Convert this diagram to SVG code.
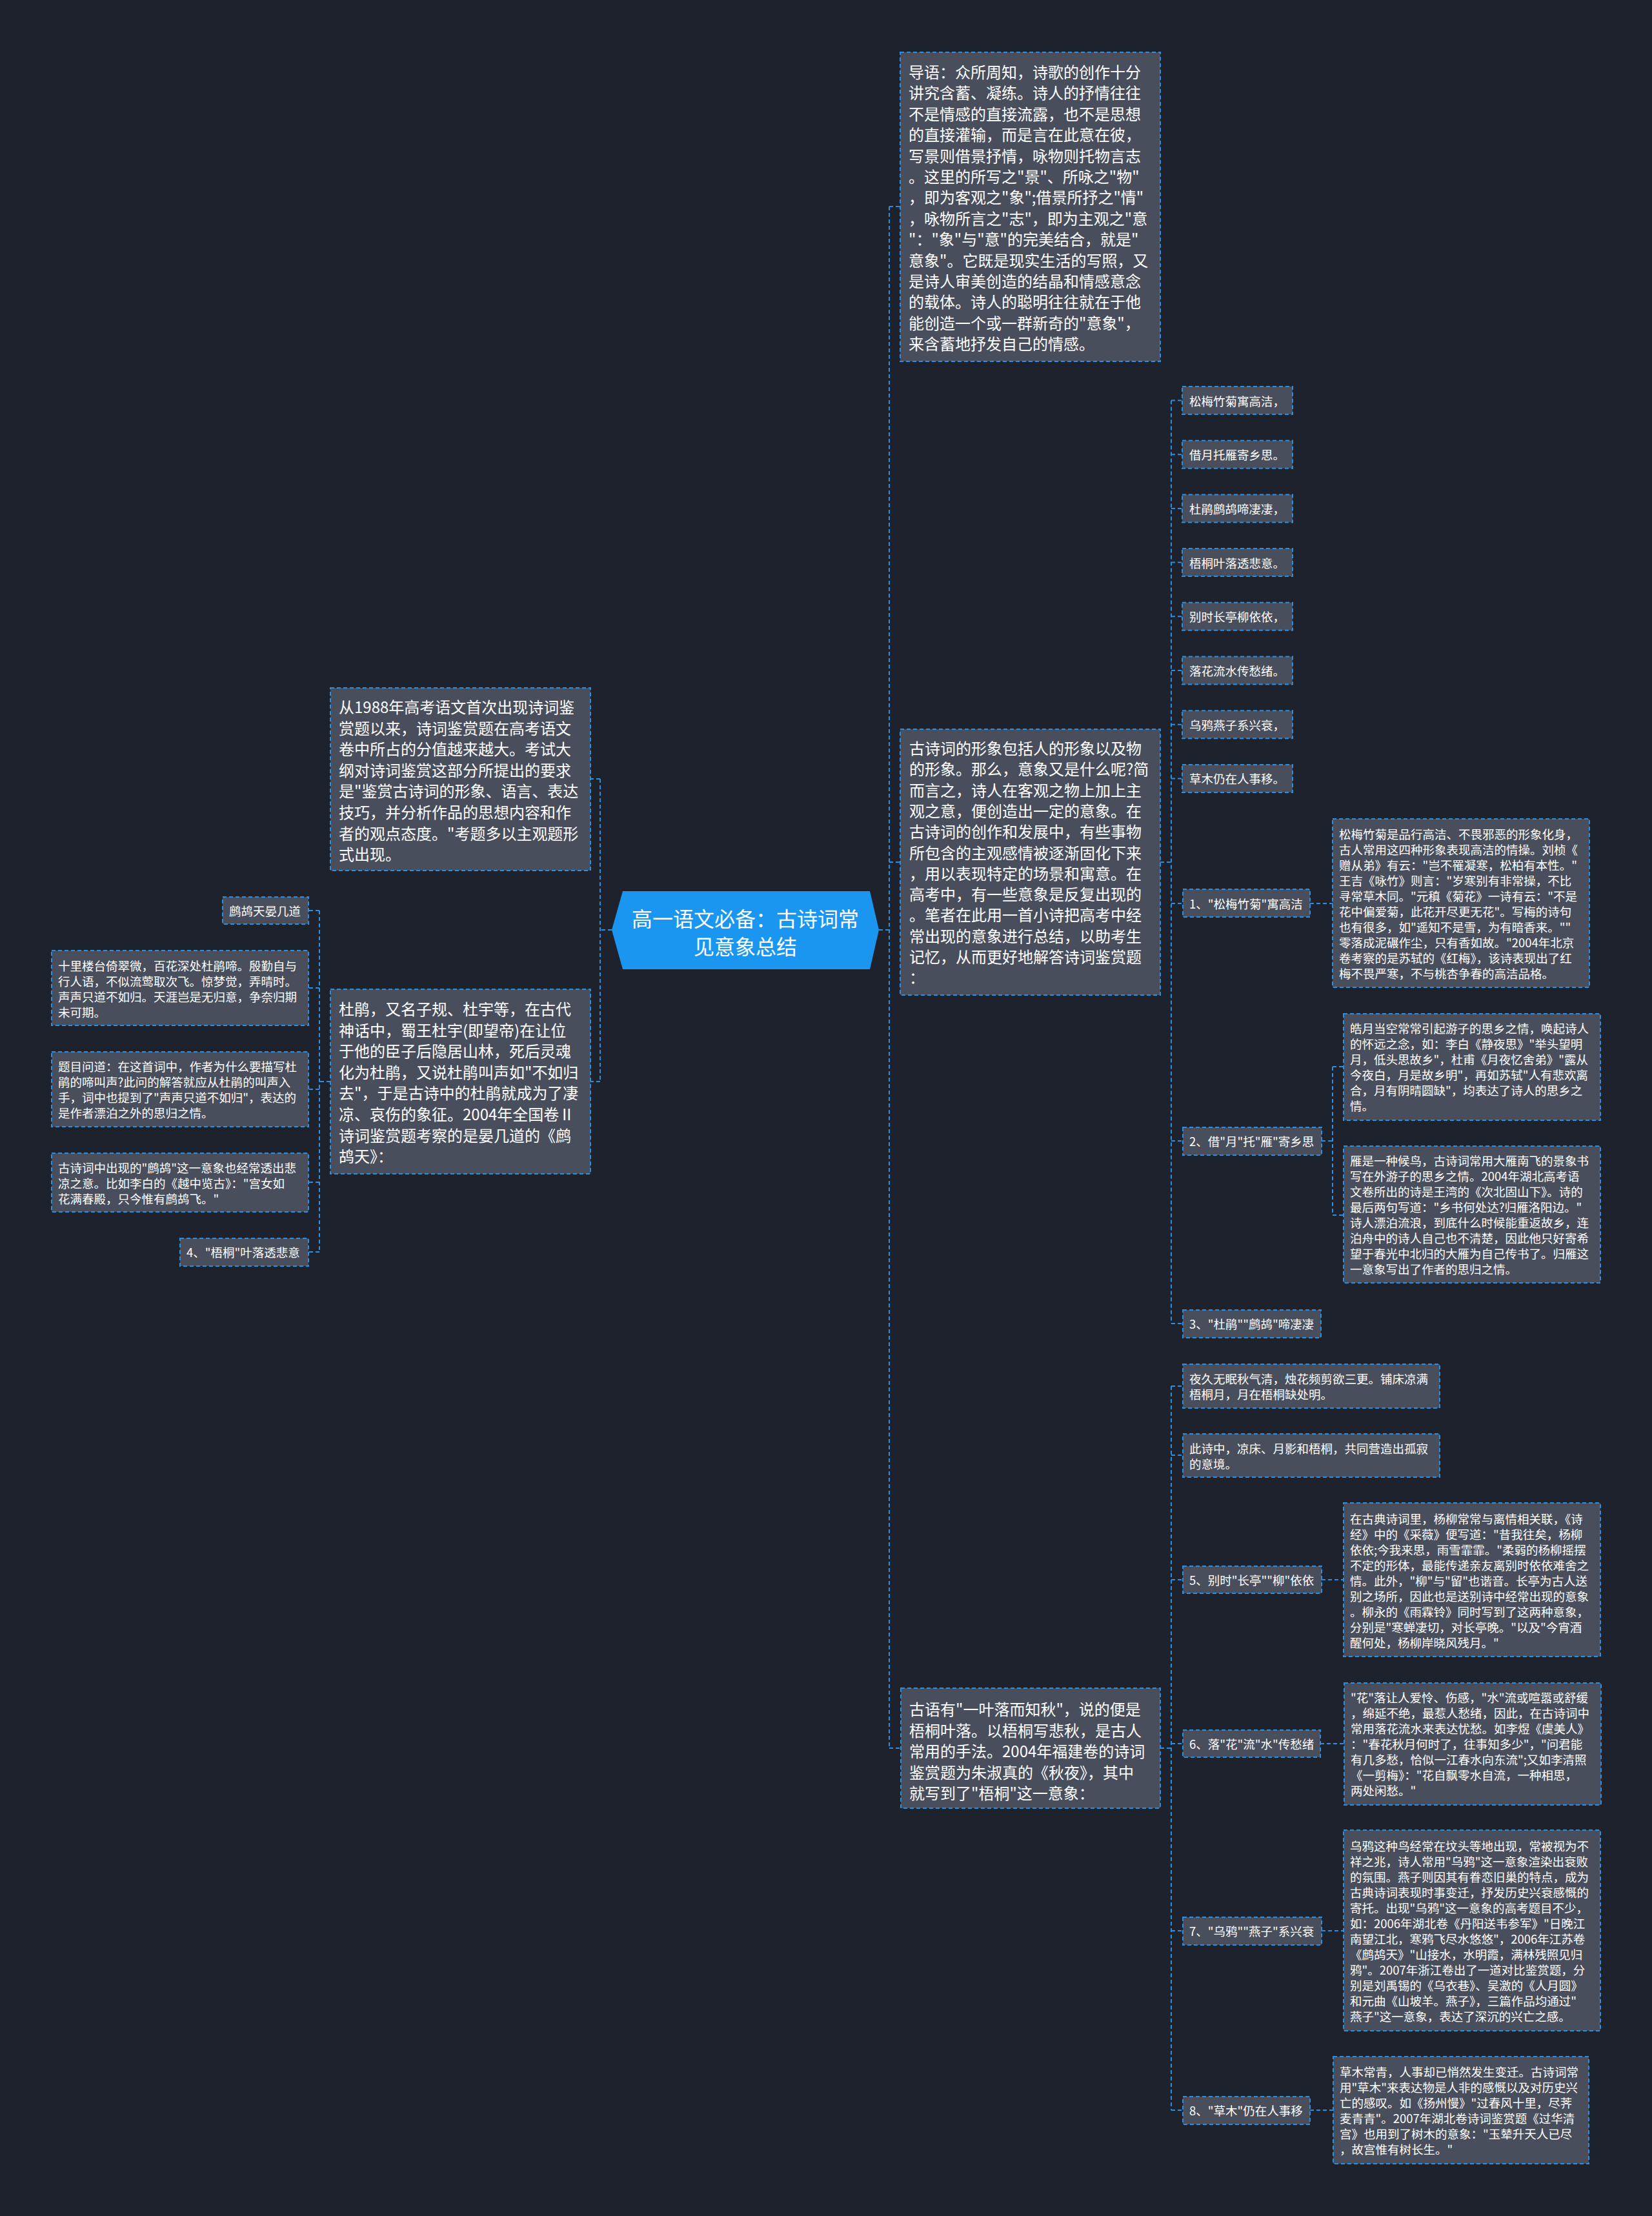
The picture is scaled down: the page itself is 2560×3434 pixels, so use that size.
<svg xmlns="http://www.w3.org/2000/svg" width="2560" height="3434" viewBox="0 0 2560 3434">
<style>
.n{fill:#484e5c;stroke:#2b8fe0;stroke-width:2;stroke-dasharray:6 4}
.c{fill:none;stroke:#2b8fe0;stroke-width:2;stroke-dasharray:6 4}
text{font-family:"Noto Sans CJK SC","Noto Sans",sans-serif;fill:#ffffff;dominant-baseline:central}
.t24{font-size:24px}
.t18{font-size:18.5px}
.tc{font-size:32px;text-anchor:middle}
</style>
<rect x="0" y="0" width="2560" height="3434" fill="#1e222d"/>
<g id="connectors">
<path class="c" d="M1362 1441H1378M1378 320V2709M1378 320H1395M1378 1336H1395M1378 2709H1396"/>
<path class="c" d="M1798 1336H1815M1815 620.5V2051M1815 620.5H1832M1815 704.2H1832M1815 787.9H1832M1815 871.6H1832M1815 955.3H1832M1815 1039H1832M1815 1122.7H1832M1815 1206.4H1832M1815 1400H1832M1815 1768H1832M1815 2051H1832"/>
<path class="c" d="M1798 2709H1815M1815 2148V3270M1815 2148H1832M1815 2255H1832M1815 2448H1832M1815 2702H1832M1815 2992H1832M1815 3270H1832"/>
<path class="c" d="M2030 1400H2065M2048 1768H2065M2065 1653V1883M2065 1653H2082M2065 1883H2082M2048 2448H2082M2046 2702H2083M2048 2992H2082M2030 3270H2066"/>
<path class="c" d="M948 1441H930M930 1207V1676M930 1207H915M930 1676H915M512 1676H495M495 1411V1940M495 1411H478M495 1531H478M495 1688H478M495 1832H478M495 1940H478"/>
</g>
<g id="center">
<polygon points="965,1381 1348,1381 1362,1441 1348,1502 965,1502 948,1441" fill="#1a96f0"/>
<text class="tc"><tspan x="1155" y="1422">高一语文必备：古诗词常</tspan><tspan x="1155" y="1465">见意象总结</tspan></text>
</g>
<g id="intro">
<rect class="n" x="1395" y="81" width="403" height="479"/>
<text class="t24"><tspan x="1408" y="110">导语：众所周知，诗歌的创作十分</tspan><tspan x="1408" y="142.4">讲究含蓄、凝练。诗人的抒情往往</tspan><tspan x="1408" y="174.8">不是情感的直接流露，也不是思想</tspan><tspan x="1408" y="207.2">的直接灌输，而是言在此意在彼，</tspan><tspan x="1408" y="239.6">写景则借景抒情，咏物则托物言志</tspan><tspan x="1408" y="272">。这里的所写之"景"、所咏之"物"</tspan><tspan x="1408" y="304.4">，即为客观之"象";借景所抒之"情"</tspan><tspan x="1408" y="336.8">，咏物所言之"志"，即为主观之"意</tspan><tspan x="1408" y="369.2">"："象"与"意"的完美结合，就是"</tspan><tspan x="1408" y="401.6">意象"。它既是现实生活的写照，又</tspan><tspan x="1408" y="434">是诗人审美创造的结晶和情感意念</tspan><tspan x="1408" y="466.4">的载体。诗人的聪明往往就在于他</tspan><tspan x="1408" y="498.8">能创造一个或一群新奇的"意象"，</tspan><tspan x="1408" y="531.2">来含蓄地抒发自己的情感。</tspan></text>
</g>
<g id="image-def">
<rect class="n" x="1395" y="1130" width="403" height="412"/>
<text class="t24"><tspan x="1409" y="1158">古诗词的形象包括人的形象以及物</tspan><tspan x="1409" y="1190.3">的形象。那么，意象又是什么呢?简</tspan><tspan x="1409" y="1222.6">而言之，诗人在客观之物上加上主</tspan><tspan x="1409" y="1254.9">观之意，便创造出一定的意象。在</tspan><tspan x="1409" y="1287.2">古诗词的创作和发展中，有些事物</tspan><tspan x="1409" y="1319.5">所包含的主观感情被逐渐固化下来</tspan><tspan x="1409" y="1351.8">，用以表现特定的场景和寓意。在</tspan><tspan x="1409" y="1384.1">高考中，有一些意象是反复出现的</tspan><tspan x="1409" y="1416.4">。笔者在此用一首小诗把高考中经</tspan><tspan x="1409" y="1448.7">常出现的意象进行总结，以助考生</tspan><tspan x="1409" y="1481">记忆，从而更好地解答诗词鉴赏题</tspan><tspan x="1409" y="1513.3">：</tspan></text>
</g>
<g id="wutong-block">
<rect class="n" x="1396" y="2616" width="402" height="186"/>
<text class="t24"><tspan x="1409" y="2647">古语有"一叶落而知秋"，说的便是</tspan><tspan x="1409" y="2679.5">梧桐叶落。以梧桐写悲秋，是古人</tspan><tspan x="1409" y="2712">常用的手法。2004年福建卷的诗词</tspan><tspan x="1409" y="2744.5">鉴赏题为朱淑真的《秋夜》，其中</tspan><tspan x="1409" y="2777">就写到了"梧桐"这一意象：</tspan></text>
</g>
<g id="poem1"><rect class="n" x="1832" y="599" width="171" height="43"/><text class="t18" x="1843" y="620.5">松梅竹菊寓高洁，</text></g>
<g id="poem2"><rect class="n" x="1832" y="682.7" width="171" height="43"/><text class="t18" x="1843" y="704.2">借月托雁寄乡思。</text></g>
<g id="poem3"><rect class="n" x="1832" y="766.4" width="171" height="43"/><text class="t18" x="1843" y="787.9">杜鹃鹧鸪啼凄凄，</text></g>
<g id="poem4"><rect class="n" x="1832" y="850.1" width="171" height="43"/><text class="t18" x="1843" y="871.6">梧桐叶落透悲意。</text></g>
<g id="poem5"><rect class="n" x="1832" y="933.8" width="171" height="43"/><text class="t18" x="1843" y="955.3">别时长亭柳依依，</text></g>
<g id="poem6"><rect class="n" x="1832" y="1017.5" width="171" height="43"/><text class="t18" x="1843" y="1039">落花流水传愁绪。</text></g>
<g id="poem7"><rect class="n" x="1832" y="1101.2" width="171" height="43"/><text class="t18" x="1843" y="1122.7">乌鸦燕子系兴衰，</text></g>
<g id="poem8"><rect class="n" x="1832" y="1184.9" width="171" height="43"/><text class="t18" x="1843" y="1206.4">草木仍在人事移。</text></g>
<g id="item1"><rect class="n" x="1833" y="1378" width="197" height="43"/><text class="t18" x="1843" y="1400">1、"松梅竹菊"寓高洁</text></g>
<g id="item1-detail">
<rect class="n" x="2065" y="1269" width="398" height="261"/>
<text class="t18"><tspan x="2075" y="1292">松梅竹菊是品行高洁、不畏邪恶的形象化身，</tspan><tspan x="2075" y="1316">古人常用这四种形象表现高洁的情操。刘桢《</tspan><tspan x="2075" y="1340">赠从弟》有云："岂不罹凝寒，松柏有本性。"</tspan><tspan x="2075" y="1364">王吉《咏竹》则言："岁寒别有非常操，不比</tspan><tspan x="2075" y="1388">寻常草木同。"元稹《菊花》一诗有云："不是</tspan><tspan x="2075" y="1412">花中偏爱菊，此花开尽更无花"。写梅的诗句</tspan><tspan x="2075" y="1436">也有很多，如"遥知不是雪，为有暗香来。""</tspan><tspan x="2075" y="1460">零落成泥碾作尘，只有香如故。"2004年北京</tspan><tspan x="2075" y="1484">卷考察的是苏轼的《红梅》，该诗表现出了红</tspan><tspan x="2075" y="1508">梅不畏严寒，不与桃杏争春的高洁品格。</tspan></text>
</g>
<g id="item2"><rect class="n" x="1833" y="1747" width="215" height="43"/><text class="t18" x="1843" y="1768">2、借"月"托"雁"寄乡思</text></g>
<g id="item2-moon">
<rect class="n" x="2082" y="1571" width="398" height="165"/>
<text class="t18"><tspan x="2092" y="1593">皓月当空常常引起游子的思乡之情，唤起诗人</tspan><tspan x="2092" y="1617">的怀远之念，如：李白《静夜思》"举头望明</tspan><tspan x="2092" y="1641">月，低头思故乡"，杜甫《月夜忆舍弟》"露从</tspan><tspan x="2092" y="1665">今夜白，月是故乡明"，再如苏轼"人有悲欢离</tspan><tspan x="2092" y="1689">合，月有阴晴圆缺"，均表达了诗人的思乡之</tspan><tspan x="2092" y="1713">情。</tspan></text>
</g>
<g id="item2-goose">
<rect class="n" x="2082" y="1776" width="398" height="212"/>
<text class="t18"><tspan x="2092" y="1798">雁是一种候鸟，古诗词常用大雁南飞的景象书</tspan><tspan x="2092" y="1822">写在外游子的思乡之情。2004年湖北高考语</tspan><tspan x="2092" y="1846">文卷所出的诗是王湾的《次北固山下》。诗的</tspan><tspan x="2092" y="1870">最后两句写道："乡书何处达?归雁洛阳边。"</tspan><tspan x="2092" y="1894">诗人漂泊流浪，到底什么时候能重返故乡，连</tspan><tspan x="2092" y="1918">泊舟中的诗人自己也不清楚，因此他只好寄希</tspan><tspan x="2092" y="1942">望于春光中北归的大雁为自己传书了。归雁这</tspan><tspan x="2092" y="1966">一意象写出了作者的思归之情。</tspan></text>
</g>
<g id="item3"><rect class="n" x="1833" y="2030" width="214" height="43"/><text class="t18" x="1843" y="2051">3、"杜鹃""鹧鸪"啼凄凄</text></g>
<g id="poem-autumn">
<rect class="n" x="1833" y="2114" width="398" height="68"/>
<text class="t18"><tspan x="1843" y="2136">夜久无眠秋气清，烛花频剪欲三更。铺床凉满</tspan><tspan x="1843" y="2160">梧桐月，月在梧桐缺处明。</tspan></text>
</g>
<g id="poem-mood">
<rect class="n" x="1833" y="2222" width="398" height="67"/>
<text class="t18"><tspan x="1843" y="2244">此诗中，凉床、月影和梧桐，共同营造出孤寂</tspan><tspan x="1843" y="2268">的意境。</tspan></text>
</g>
<g id="item5"><rect class="n" x="1833" y="2427" width="215" height="42"/><text class="t18" x="1843" y="2448">5、别时"长亭""柳"依依</text></g>
<g id="item5-detail">
<rect class="n" x="2082" y="2329" width="398" height="238"/>
<text class="t18"><tspan x="2092" y="2353">在古典诗词里，杨柳常常与离情相关联，《诗</tspan><tspan x="2092" y="2377">经》中的《采薇》便写道："昔我往矣，杨柳</tspan><tspan x="2092" y="2401">依依;今我来思，雨雪霏霏。"柔弱的杨柳摇摆</tspan><tspan x="2092" y="2425">不定的形体，最能传递亲友离别时依依难舍之</tspan><tspan x="2092" y="2449">情。此外，"柳"与"留"也谐音。长亭为古人送</tspan><tspan x="2092" y="2473">别之场所，因此也是送别诗中经常出现的意象</tspan><tspan x="2092" y="2497">。柳永的《雨霖铃》同时写到了这两种意象，</tspan><tspan x="2092" y="2521">分别是"寒蝉凄切，对长亭晚。"以及"今宵酒</tspan><tspan x="2092" y="2545">醒何处，杨柳岸晓风残月。"</tspan></text>
</g>
<g id="item6"><rect class="n" x="1833" y="2681" width="213" height="42"/><text class="t18" x="1843" y="2702">6、落"花"流"水"传愁绪</text></g>
<g id="item6-detail">
<rect class="n" x="2083" y="2608" width="398" height="189"/>
<text class="t18"><tspan x="2093" y="2630">"花"落让人爱怜、伤感，"水"流或喧嚣或舒缓</tspan><tspan x="2093" y="2654">，绵延不绝，最惹人愁绪，因此，在古诗词中</tspan><tspan x="2093" y="2678">常用落花流水来表达忧愁。如李煜《虞美人》</tspan><tspan x="2093" y="2702">："春花秋月何时了，往事知多少"，"问君能</tspan><tspan x="2093" y="2726">有几多愁，恰似一江春水向东流";又如李清照</tspan><tspan x="2093" y="2750">《一剪梅》："花自飘零水自流，一种相思，</tspan><tspan x="2093" y="2774">两处闲愁。"</tspan></text>
</g>
<g id="item7"><rect class="n" x="1833" y="2971" width="215" height="43"/><text class="t18" x="1843" y="2992">7、"乌鸦""燕子"系兴衰</text></g>
<g id="item7-detail">
<rect class="n" x="2082" y="2836" width="398" height="311"/>
<text class="t18"><tspan x="2092" y="2860">乌鸦这种鸟经常在坟头等地出现，常被视为不</tspan><tspan x="2092" y="2884">祥之兆，诗人常用"乌鸦"这一意象渲染出衰败</tspan><tspan x="2092" y="2908">的氛围。燕子则因其有眷恋旧巢的特点，成为</tspan><tspan x="2092" y="2932">古典诗词表现时事变迁，抒发历史兴衰感慨的</tspan><tspan x="2092" y="2956">寄托。出现"乌鸦"这一意象的高考题目不少，</tspan><tspan x="2092" y="2980">如：2006年湖北卷《丹阳送韦参军》"日晚江</tspan><tspan x="2092" y="3004">南望江北，寒鸦飞尽水悠悠"，2006年江苏卷</tspan><tspan x="2092" y="3028">《鹧鸪天》"山接水，水明霞，满林残照见归</tspan><tspan x="2092" y="3052">鸦"。2007年浙江卷出了一道对比鉴赏题，分</tspan><tspan x="2092" y="3076">别是刘禹锡的《乌衣巷》、吴激的《人月圆》</tspan><tspan x="2092" y="3100">和元曲《山坡羊。燕子》，三篇作品均通过"</tspan><tspan x="2092" y="3124">燕子"这一意象，表达了深沉的兴亡之感。</tspan></text>
</g>
<g id="item8"><rect class="n" x="1833" y="3249" width="197" height="43"/><text class="t18" x="1843" y="3270">8、"草木"仍在人事移</text></g>
<g id="item8-detail">
<rect class="n" x="2066" y="3187" width="396" height="166"/>
<text class="t18"><tspan x="2076" y="3210">草木常青，人事却已悄然发生变迁。古诗词常</tspan><tspan x="2076" y="3234">用"草木"来表达物是人非的感慨以及对历史兴</tspan><tspan x="2076" y="3258">亡的感叹。如《扬州慢》"过春风十里，尽荠</tspan><tspan x="2076" y="3282">麦青青"。2007年湖北卷诗词鉴赏题《过华清</tspan><tspan x="2076" y="3306">宫》也用到了树木的意象："玉辇升天人已尽</tspan><tspan x="2076" y="3330">，故宫惟有树长生。"</tspan></text>
</g>
<g id="exam-block">
<rect class="n" x="512" y="1066" width="403" height="283"/>
<text class="t24"><tspan x="525" y="1094">从1988年高考语文首次出现诗词鉴</tspan><tspan x="525" y="1126.6">赏题以来，诗词鉴赏题在高考语文</tspan><tspan x="525" y="1159.2">卷中所占的分值越来越大。考试大</tspan><tspan x="525" y="1191.8">纲对诗词鉴赏这部分所提出的要求</tspan><tspan x="525" y="1224.4">是"鉴赏古诗词的形象、语言、表达</tspan><tspan x="525" y="1257">技巧，并分析作品的思想内容和作</tspan><tspan x="525" y="1289.6">者的观点态度。"考题多以主观题形</tspan><tspan x="525" y="1322.2">式出现。</tspan></text>
</g>
<g id="dujuan-block">
<rect class="n" x="512" y="1533" width="403" height="286"/>
<text class="t24"><tspan x="525" y="1562">杜鹃，又名子规、杜宇等，在古代</tspan><tspan x="525" y="1594.6">神话中，蜀王杜宇(即望帝)在让位</tspan><tspan x="525" y="1627.2">于他的臣子后隐居山林，死后灵魂</tspan><tspan x="525" y="1659.8">化为杜鹃，又说杜鹃叫声如"不如归</tspan><tspan x="525" y="1692.4">去"，于是古诗中的杜鹃就成为了凄</tspan><tspan x="525" y="1725">凉、哀伤的象征。2004年全国卷Ⅱ</tspan><tspan x="525" y="1757.6">诗词鉴赏题考察的是晏几道的《鹧</tspan><tspan x="525" y="1790.2">鸪天》：</tspan></text>
</g>
<g id="zhegutian"><rect class="n" x="345" y="1390" width="133" height="42"/><text class="t18" x="355" y="1411">鹧鸪天晏几道</text></g>
<g id="ci-text">
<rect class="n" x="80" y="1473" width="398" height="116"/>
<text class="t18"><tspan x="90" y="1496">十里楼台倚翠微，百花深处杜鹃啼。殷勤自与</tspan><tspan x="90" y="1520">行人语，不似流莺取次飞。惊梦觉，弄晴时。</tspan><tspan x="90" y="1544">声声只道不如归。天涯岂是无归意，争奈归期</tspan><tspan x="90" y="1568">未可期。</tspan></text>
</g>
<g id="question">
<rect class="n" x="80" y="1630" width="398" height="116"/>
<text class="t18"><tspan x="90" y="1652">题目问道：在这首词中，作者为什么要描写杜</tspan><tspan x="90" y="1676">鹃的啼叫声?此问的解答就应从杜鹃的叫声入</tspan><tspan x="90" y="1700">手，词中也提到了"声声只道不如归"，表达的</tspan><tspan x="90" y="1724">是作者漂泊之外的思归之情。</tspan></text>
</g>
<g id="zhegu-image">
<rect class="n" x="80" y="1787" width="398" height="91"/>
<text class="t18"><tspan x="90" y="1809">古诗词中出现的"鹧鸪"这一意象也经常透出悲</tspan><tspan x="90" y="1833">凉之意。比如李白的《越中览古》："宫女如</tspan><tspan x="90" y="1857">花满春殿，只今惟有鹧鸪飞。"</tspan></text>
</g>
<g id="item4"><rect class="n" x="279" y="1919" width="199" height="43"/><text class="t18" x="289" y="1940">4、"梧桐"叶落透悲意</text></g>
</svg>
